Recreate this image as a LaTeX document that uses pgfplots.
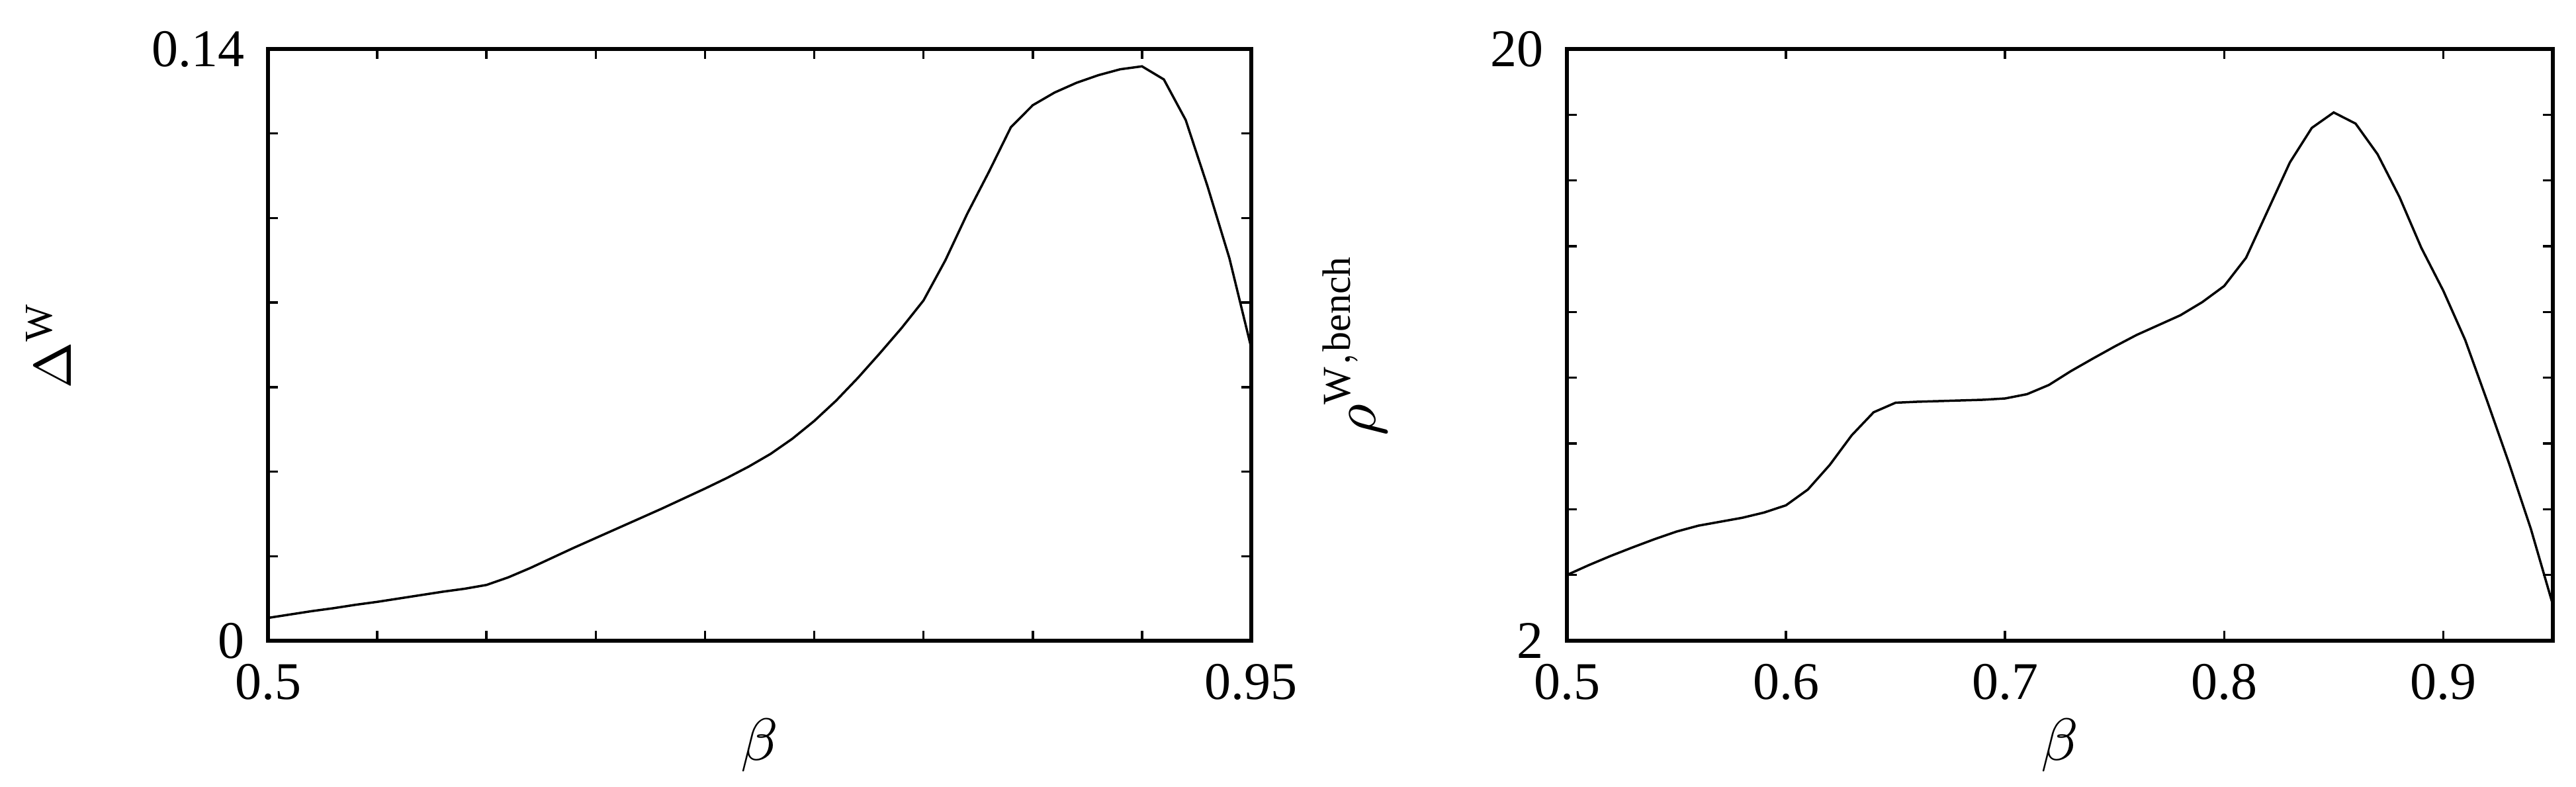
\documentclass[border=0pt]{standalone}
\usepackage{fontspec}
\setmainfont{Liberation Serif}
\usepackage{pgfplots}
\pgfplotsset{compat=1.18}

\pgfplotsset{
  panel/.style={
    scale only axis, anchor=south west,
    height=89.4pt, xmin=0.5, xmax=0.95,
    axis line style={line width=0.55pt},
    tick align=inside,
    major tick length=1.5pt, minor tick length=1.5pt,
    every tick/.style={black, line width=0.35pt},
    tick label style={font=\fontsize{8}{9}\selectfont},
    /pgf/number format/assume math mode=true,
    xlabel style={font=\fontsize{9}{10}\selectfont,
      at={(axis description cs:0.5,-0.177)}, anchor=center},
    ylabel style={font=\fontsize{8.5}{10}\selectfont, anchor=center},
  },
  curve/.style={black, line width=0.35pt, mark=none},
}

\begin{document}
\begin{tikzpicture}
\useasboundingbox (0,0) rectangle (389.3pt,118.8pt);

% left panel
\begin{axis}[panel,
  at={(40.5pt,22pt)}, width=148.6pt,
  ymin=0, ymax=0.14,
  xtick={0.5,0.95}, xticklabels={0.5,0.95},
  minor xtick={0.55,0.6,0.65,0.7,0.75,0.8,0.85,0.9},
  ytick={0,0.14}, yticklabels={0,0.14},
  minor ytick={0.02,0.04,0.06,0.08,0.1,0.12},
  xlabel={$\beta$}, ylabel={$\Delta^{\mathrm{W}}$},
  ylabel style={at={(axis description cs:-0.223,0.5)}},
]
\addplot[curve] table {
x y
0.50 0.0054
0.51 0.0062
0.52 0.0070
0.53 0.0077
0.54 0.0085
0.55 0.0092
0.56 0.0100
0.57 0.0108
0.58 0.0116
0.59 0.0123
0.60 0.0132
0.61 0.0150
0.62 0.0172
0.63 0.0196
0.64 0.0220
0.65 0.0243
0.66 0.0266
0.67 0.0289
0.68 0.0312
0.69 0.0336
0.70 0.0360
0.71 0.0385
0.72 0.0412
0.73 0.0442
0.74 0.0478
0.75 0.0520
0.76 0.0568
0.77 0.0622
0.78 0.0680
0.79 0.0740
0.80 0.0805
0.81 0.0900
0.82 0.1010
0.83 0.1110
0.84 0.1215
0.85 0.1267
0.86 0.1297
0.87 0.1320
0.88 0.1338
0.89 0.1352
0.90 0.1359
0.91 0.1328
0.92 0.1232
0.93 0.1075
0.94 0.0905
0.95 0.0693
};
\end{axis}

% right panel
\begin{axis}[panel,
  at={(236.8pt,22pt)}, width=149pt,
  ymin=2, ymax=20,
  xtick={0.5,0.6,0.7,0.8,0.9}, xticklabels={0.5,0.6,0.7,0.8,0.9},
  ytick={2,20}, yticklabels={2,20},
  minor ytick={4,6,8,10,12,14,16,18},
  xlabel={$\beta$}, ylabel={$\rho^{\mathrm{W,bench}}$},
  ylabel style={font=\fontsize{9}{10}\selectfont, at={(axis description cs:-0.215,0.5)}},
]
\addplot[curve] table {
x y
0.50 4.00
0.51 4.30
0.52 4.58
0.53 4.84
0.54 5.09
0.55 5.32
0.56 5.50
0.57 5.62
0.58 5.74
0.59 5.90
0.60 6.12
0.61 6.60
0.62 7.35
0.63 8.25
0.64 8.95
0.65 9.24
0.66 9.27
0.67 9.29
0.68 9.31
0.69 9.33
0.70 9.37
0.71 9.50
0.72 9.78
0.73 10.20
0.74 10.58
0.75 10.95
0.76 11.30
0.77 11.60
0.78 11.90
0.79 12.30
0.80 12.79
0.81 13.65
0.82 15.10
0.83 16.55
0.84 17.60
0.85 18.07
0.86 17.73
0.87 16.80
0.88 15.50
0.89 13.95
0.90 12.65
0.91 11.15
0.92 9.30
0.93 7.40
0.94 5.40
0.95 3.10
};
\end{axis}
\end{tikzpicture}
\end{document}
